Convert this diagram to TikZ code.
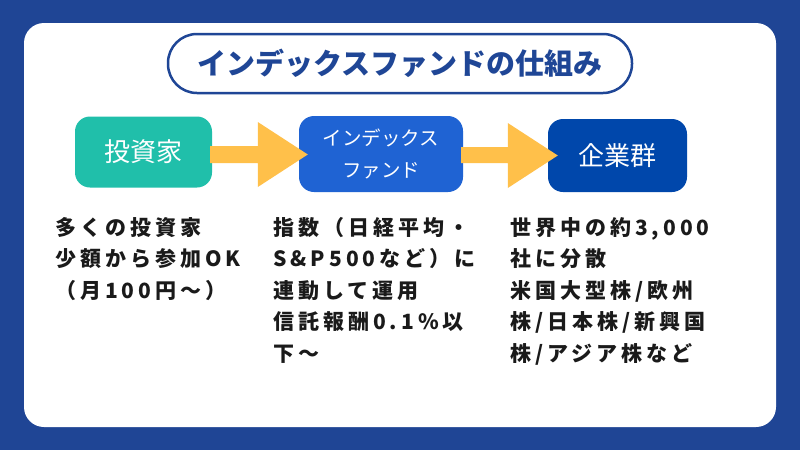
\documentclass[tikz,border=0pt]{standalone}
\usepackage{fontspec}
\usetikzlibrary{calc}
\newfontfamily\jp{Noto Sans CJK JP}
\newfontfamily\jpsp[LetterSpace=19]{Noto Sans CJK JP}
\definecolor{bgblue}{HTML}{1F4595}
\definecolor{titleblue}{HTML}{1F4696}
\definecolor{tealbox}{HTML}{20BFAA}
\definecolor{fundblue}{HTML}{1F63D3}
\definecolor{firmblue}{HTML}{0047AB}
\definecolor{arrowyellow}{HTML}{FFC04A}
\definecolor{bodytext}{HTML}{1A1A1A}
\tikzset{
  box/.style={rounded corners=15pt,text=white,inner sep=0pt,align=center},
  arrowfill/.style={fill=arrowyellow},
  body/.style={anchor=north west,inner sep=0pt,align=left,text=bodytext,
    font=\jpsp\bfseries\fontsize{21}{31.5}\selectfont}
}

\begin{document}
\begin{tikzpicture}[x=1pt,y=-1pt]
\useasboundingbox (0,0) rectangle (800,450);
\fill[bgblue] (0,0) rectangle (800,450);
\fill[white,rounded corners=20pt] (24,23) rectangle (776,427);
% title
\draw[titleblue,line width=2.5pt,rounded corners=29pt] (168,34) rectangle (632,93);
\node[text=titleblue,font=\jp\bfseries\fontsize{29}{30}\selectfont] (title) at (400,63) {インデックスファンドの仕組み};
% boxes
\node[box,fill=tealbox,minimum width=137pt,minimum height=71pt,font=\jp\fontsize{26}{28}\selectfont] (inv) at (143.5,152) {投資家};
\node[box,fill=fundblue,minimum width=164pt,minimum height=76pt,font=\jp\fontsize{19.5}{32}\selectfont] (fund) at (381,154) {インデックス\\ファンド};
\node[box,fill=firmblue,minimum width=139pt,minimum height=73pt,font=\jp\fontsize{26}{28}\selectfont] (firms) at (617.5,155.5) {企業群};
% arrows
\fill[arrowfill] ($(inv.east)+(-2,-6)$) -- ($(fund.west)+(-41,-8)$) -- ($(fund.west)+(-41,-32)$) -- ($(fund.west)+(9,0.5)$)
  -- ($(fund.west)+(-41,33)$) -- ($(fund.west)+(-41,9)$) -- ($(inv.east)+(-2,11)$) -- cycle;
\fill[arrowfill] ($(fund.east)+(-2,-7)$) -- ($(firms.west)+(-40,-8.5)$) -- ($(firms.west)+(-40,-32.5)$) -- ($(firms.west)+(10,0)$)
  -- ($(firms.west)+(-40,32.5)$) -- ($(firms.west)+(-40,7.5)$) -- ($(fund.east)+(-2,9)$) -- cycle;
% texts
\node[body] (invtext) at (55,217) {多くの投資家\\少額から参加OK\\（月100円～）};
\node[body] (fundtext) at (273,217) {指数（日経平均・\\S\&P500など）に\\連動して運用\\信託報酬0.1\%以\\下～};
\node[body] (firmtext) at (510,217) {世界中の約3,000\\社に分散\\米国大型株/欧州\\株/日本株/新興国\\株/アジア株など};
\end{tikzpicture}
\end{document}
